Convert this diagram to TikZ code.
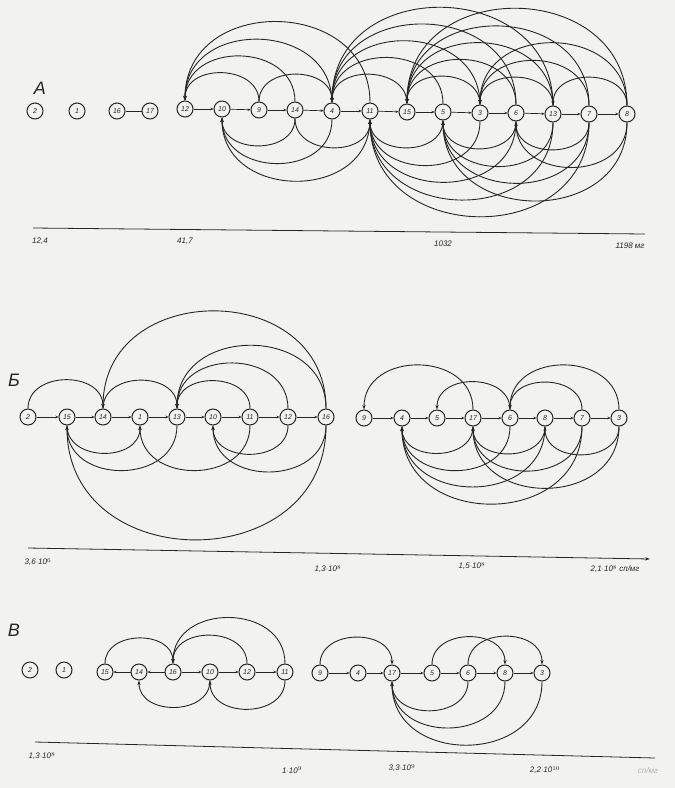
\documentclass[tikz,border=0pt]{standalone}
\usepackage{fontspec}
\setmainfont{Liberation Sans}
\usetikzlibrary{calc,arrows.meta}
\definecolor{ink}{HTML}{262626}
\definecolor{paper}{HTML}{F2F2F0}
\tikzset{
  nd/.style={circle,draw=ink,line width=1pt,minimum size=16pt,inner sep=0pt,font=\fontsize{7}{8}\selectfont\itshape,text=ink,fill=paper},
  arcline/.style={draw=ink,line width=0.9pt,-{Stealth[length=4.5pt,width=3.2pt]}},
  chainline/.style={draw=ink,line width=0.7pt,-{Stealth[length=3pt,width=2.5pt]}},
  axisline/.style={draw=ink,line width=0.8pt},
  axlab/.style={font=\fontsize{8}{9}\selectfont\itshape,text=ink,inner sep=0pt},
  panlab/.style={font=\fontsize{18}{19}\selectfont\itshape,text=ink,inner sep=0pt}
}
\newcommand\arcU[2]{\draw[arcline] let \p1=(#1), \p2=(#2), \n1={0.62*abs(\x2-\x1)} in (#1) .. controls +(0,\n1) and +(0,\n1) .. (#2);}
\newcommand\arcD[2]{\draw[arcline] let \p1=(#1), \p2=(#2), \n1={0.62*abs(\x2-\x1)} in (#1) .. controls +(0,-\n1) and +(0,-\n1) .. (#2);}
\begin{document}
\begin{tikzpicture}[x=1pt,y=-1pt]
\fill[paper] (0,0) rectangle (675,788);
\useasboundingbox (0,0) rectangle (675,788);

% ---------------- Panel A ----------------
\node[panlab] (LA) at (40,88) {A};
\node[nd] (A2) at (35,111) {2};
\node[nd] (A1) at (77,111) {1};
\node[nd] (A16) at (117,111) {16};
\node[nd] (A17) at (150,111) {17};
\draw[draw=ink,line width=0.8pt] (A16) -- (A17);
\foreach \n/\x/\y in {12/185/109,10/222/109,9/259/110,14/295/110,4/332/111,11/370/111,15/407/112,5/443/112,3/480/113,6/516/113,13/553/114,7/589/114,8/627/114}
  \node[nd] (a\n) at (\x,\y) {\n};
\foreach \p/\q in {12/10,10/9,9/14,14/4,4/11,11/15,15/5,5/3,3/6,6/13,13/7,7/8}
  \draw[chainline] (a\p) -- (a\q);
% arcs above
\arcU{a9}{a12}\arcU{a14}{a12}\arcU{a4}{a12}\arcU{a11}{a12}
\arcU{a9}{a4}
\arcU{a15}{a4}\arcU{a5}{a4}\arcU{a3}{a4}\arcU{a6}{a4}\arcU{a13}{a4}
\arcU{a3}{a15}\arcU{a6}{a15}\arcU{a13}{a15}\arcU{a7}{a15}\arcU{a8}{a15}
\arcU{a13}{a3}\arcU{a7}{a3}\arcU{a8}{a3}
\arcU{a8}{a13}
% arcs below
\arcD{a14}{a10}\arcD{a4}{a10}\arcD{a11}{a10}
\arcD{a14}{a11}
\arcD{a5}{a11}\arcD{a3}{a11}\arcD{a6}{a11}\arcD{a13}{a11}\arcD{a7}{a11}
\arcD{a6}{a5}\arcD{a13}{a5}\arcD{a7}{a5}\arcD{a8}{a5}
\arcD{a7}{a6}\arcD{a8}{a6}
% axis A
\coordinate (ax1) at (33,228);
\coordinate (ax2) at (645,234);
\draw[axisline] (ax1) -- (ax2);
\node[axlab] (tA1) at (40,241) {12,4};
\node[axlab] (tA2) at (185,241) {41,7};
\node[axlab] (tA3) at (443,244) {1032};
\node[axlab] (tA4) at (630,246) {1198 мг};

% ---------------- Panel B ----------------
\node[panlab] (LB) at (14,380) {Б};
\foreach \n/\x in {2/28,15/67,14/103,1/140,13/177,10/213,11/250,12/288,16/326}
  \node[nd] (b\n) at (\x,417) {\n};
\foreach \p/\q in {2/15,15/14,14/1,1/13,13/10,10/11,11/12,12/16}
  \draw[chainline] (b\p) -- (b\q);
\foreach \n/\x in {9/364,4/402,5/437,17/473,6/510,8/545,7/582,3/619}
  \node[nd] (b\n) at (\x,418) {\n};
\foreach \p/\q in {9/4,4/5,5/17,17/6,6/8,8/7,7/3}
  \draw[chainline] (b\p) -- (b\q);
% left group
\arcU{b2}{b14}\arcU{b16}{b14}
\arcU{b14}{b13}\arcU{b16}{b13}\arcU{b12}{b13}\arcU{b11}{b13}
\arcD{b15}{b1}\arcD{b13}{b15}\arcD{b11}{b1}
\arcD{b12}{b10}\arcD{b16}{b10}\arcD{b16}{b15}
% right group
\arcU{b17}{b9}\arcU{b6}{b5}\arcU{b7}{b6}\arcU{b3}{b6}
\arcD{b17}{b4}\arcD{b6}{b4}\arcD{b8}{b4}\arcD{b7}{b4}
\arcD{b8}{b17}\arcD{b7}{b17}\arcD{b3}{b17}\arcD{b3}{b8}
% axis B
\coordinate (bx1) at (28,548);
\coordinate (bx2) at (650,559);
\draw[axisline,-{Stealth[length=5pt,width=3pt]}] (bx1) -- (bx2);
\node[axlab] (tB1) at (38,562) {3,6$\cdot$10$^{6}$};
\node[axlab] (tB2) at (328,569) {1,3$\cdot$10$^{8}$};
\node[axlab] (tB3) at (472,566) {1,5$\cdot$10$^{8}$};
\node[axlab] (tB4) at (615,569) {2,1$\cdot$10$^{8}$ сп/мг};

% ---------------- Panel V ----------------
\node[panlab] (LV) at (14,630) {В};
\node[nd] (c2) at (30,670) {2};
\node[nd] (c1) at (64,670) {1};
\foreach \n/\x in {15/105,14/139,16/173,10/210,12/247,11/285}
  \node[nd] (c\n) at (\x,672) {\n};
\foreach \p/\q in {14/15,16/14,16/10,10/12,12/11}
  \draw[chainline] (c\p) -- (c\q);
\foreach \n/\x in {9/320,4/358,17/392,5/432,6/468,8/505,3/542}
  \node[nd] (c\n) at (\x,673) {\n};
\foreach \p/\q in {9/4,4/17,17/5,5/6,6/8,8/3}
  \draw[chainline] (c\p) -- (c\q);
\arcU{c15}{c16}\arcU{c12}{c16}\arcU{c11}{c16}
\arcD{c10}{c14}\arcD{c11}{c10}
\arcU{c9}{c17}\arcU{c5}{c8}\arcU{c6}{c3}
\arcD{c6}{c17}\arcD{c8}{c17}\arcD{c3}{c17}
% axis V
\coordinate (cx1) at (35,742);
\coordinate (cx2) at (655,758);
\draw[axisline] (cx1) -- (cx2);
\node[axlab] (tC1) at (42,756) {1,3$\cdot$10$^{8}$};
\node[axlab] (tC2) at (292,770) {1$\cdot$10$^{9}$};
\node[axlab] (tC3) at (402,768) {3,3$\cdot$10$^{9}$};
\node[axlab] (tC4) at (545,770) {2,2$\cdot$10$^{10}$};
\node[axlab,text=ink!35] (tC5) at (648,771) {сп/мг};
\end{tikzpicture}
\end{document}
